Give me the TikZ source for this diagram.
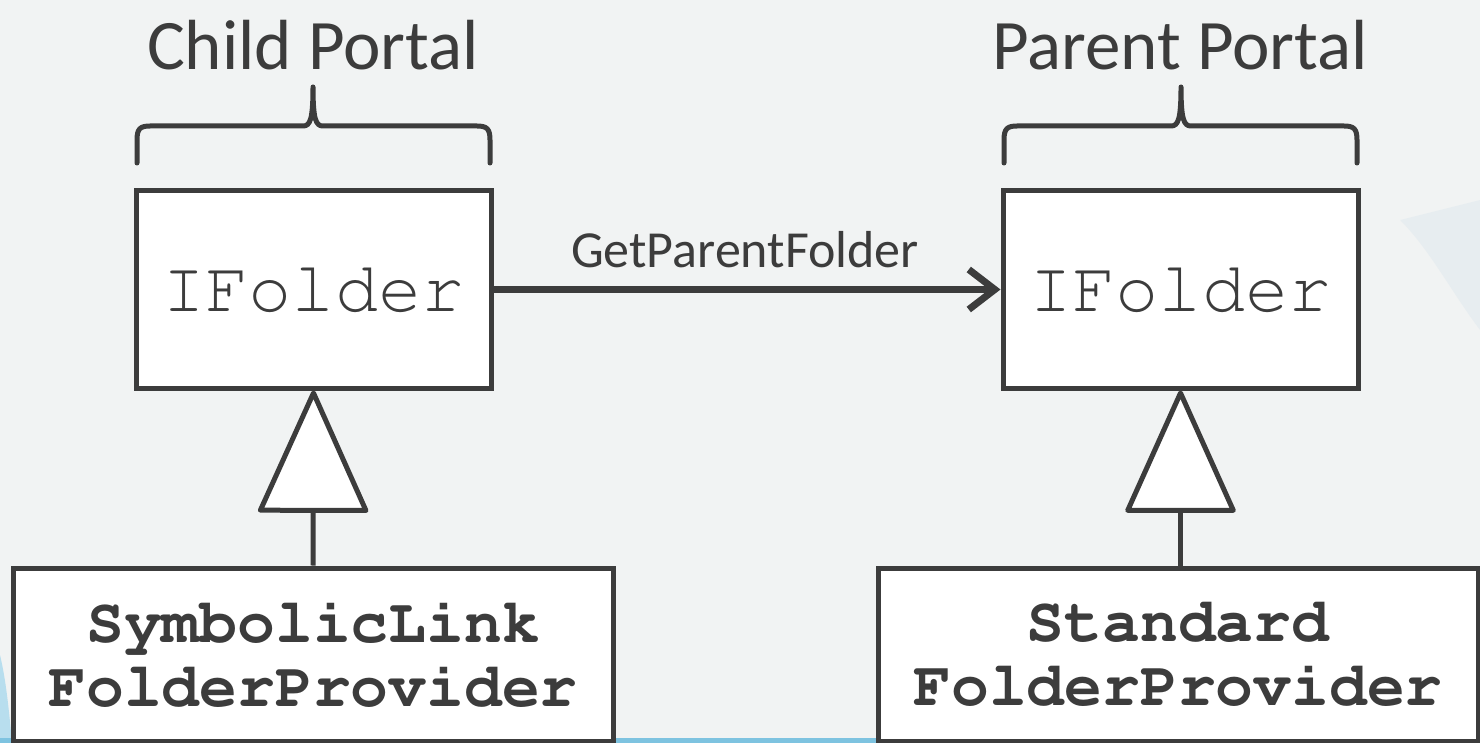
\documentclass[tikz,border=0pt]{standalone}
\usepackage[T1]{fontenc}
\usepackage{fontspec}
\setmainfont{Carlito}
\newcommand\courfam{\fontencoding{T1}\fontfamily{pcr}\selectfont}
\usetikzlibrary{arrows.meta}
\definecolor{ink}{HTML}{3C3C3C}
\definecolor{sky}{HTML}{F1F3F3}
\definecolor{skyblue}{HTML}{7EC3E0}
\definecolor{cloudshade}{HTML}{E4EBEF}
\tikzset{
  ifbox/.style={draw=ink, fill=white, line width=5pt, minimum width=355pt, minimum height=197pt, inner sep=0pt,
    font=\courfam\fontsize{72}{72}\selectfont, text=ink},
  provbox/.style={draw=ink, fill=white, line width=5pt, minimum width=600pt, minimum height=173pt, inner sep=0pt,
    align=center, font=\courfam\bfseries\fontsize{63}{64}\selectfont, text=ink},
  title/.style={font=\fontsize{71}{71}\selectfont, text=ink, inner sep=0pt},
  lbl/.style={font=\fontsize{52}{52}\selectfont, text=ink, inner sep=0pt},
  bracepath/.style={draw=ink, line width=5pt, line cap=round, line join=round},
  inherit/.style={draw=ink, line width=5pt, -{Triangle[length=126pt, width=112pt, fill=white, round]}},
  call/.style={draw=ink, line width=7pt, -{Straight Barb[length=26pt, width=40pt]}}
}
\begin{document}
\begin{tikzpicture}[x=1pt, y=-1pt]
\useasboundingbox (0,0) rectangle (1480,743);
% background
\fill[sky] (0,0) rectangle (1480,743);
\fill[cloudshade, opacity=0.7] (1400,220) .. controls (1430,250) and (1450,290) .. (1480,330) -- (1480,200) -- cycle;
\fill[skyblue!55] (0,655) .. controls (6,680) and (9,710) .. (12,743) -- (0,743) -- cycle;
\fill[skyblue] (0,738) rectangle (1480,743);

% titles
\node[title] (childt) at (313,45) {Child Portal};
\node[title] (parentt) at (1180,45) {Parent Portal};

% braces
\draw[bracepath] (137,163) -- (137,140) .. controls (137,129) and (140,126) .. (150,126)
  -- (303,126) .. controls (310,126) and (313,120) .. (313,87)
  .. controls (313,120) and (316,126) .. (323,126) -- (477,126)
  .. controls (487,126) and (490,129) .. (490,140) -- (490,163);
\draw[bracepath] (1004,163) -- (1004,140) .. controls (1004,129) and (1007,126) .. (1017,126)
  -- (1171,126) .. controls (1178,126) and (1181,120) .. (1181,87)
  .. controls (1181,120) and (1184,126) .. (1191,126) -- (1344,126)
  .. controls (1354,126) and (1357,129) .. (1357,140) -- (1357,163);

% boxes
\node[ifbox] (childif) at (313.5,289.5) {IFolder};
\node[ifbox] (parentif) at (1180.5,289.5) {IFolder};
\node[provbox] (symlink) at (313,654.5) {SymbolicLink\\FolderProvider};
\node[provbox] (standard) at (1178,654.5) {Standard\\FolderProvider};

% connectors
\draw[call] (childif.east) -- (parentif.west);
\node[lbl] (getpf) at (745,250) {GetParentFolder};
\draw[inherit] (symlink.north) -- (childif.south);
\draw[inherit] (standard.north -| parentif.south) -- (parentif.south);
\end{tikzpicture}
\end{document}
